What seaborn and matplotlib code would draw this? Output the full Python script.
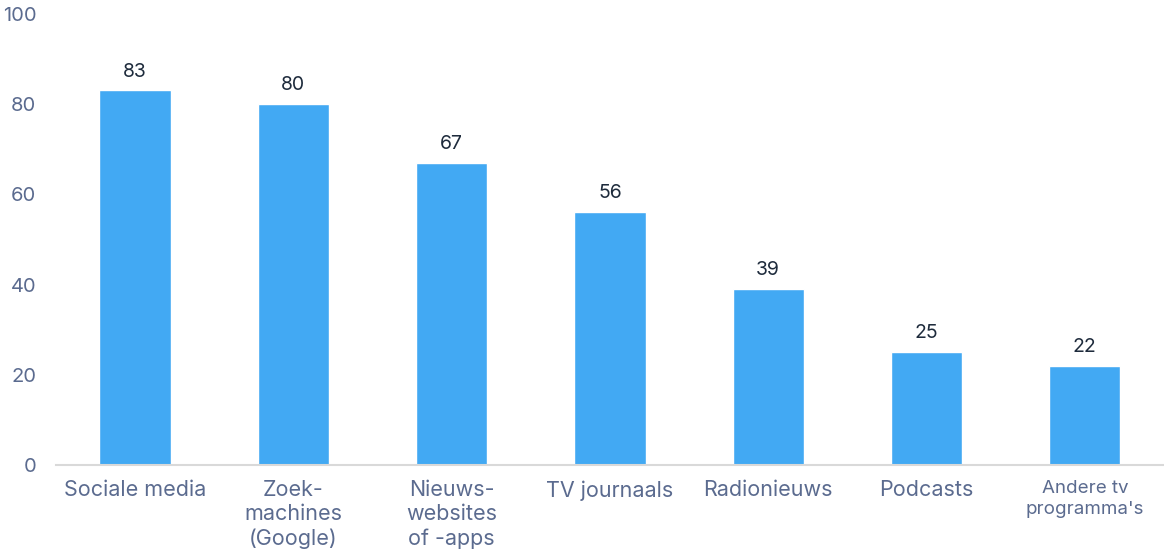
import seaborn as sns
import matplotlib.pyplot as plt
import pandas as pd

categories = ["Sociale media", "Zoek-\nmachines\n(Google)", "Nieuws-\nwebsites\nof -apps",
              "TV journaals", "Radionieuws", "Podcasts", "Andere tv\nprogramma's"]
values = [83, 80, 67, 56, 39, 25, 22]

bar_color = "#42A9F3"
tick_color = "#5B6B8F"
label_color = "#1E2B3C"


def main():
    sns.set_style("white")
    plt.rcParams["font.family"] = ["Inter", "DejaVu Sans"]

    df = pd.DataFrame({"cat": categories, "val": values})

    fig = plt.figure(figsize=(11.64, 5.51), dpi=100)
    ax = fig.add_axes([0.048, 0.156, 0.952, 0.819])

    sns.barplot(data=df, x="cat", y="val", color=bar_color, width=0.45,
                saturation=1, ax=ax)

    for p, v in zip(ax.patches, values):
        ax.text(p.get_x() + p.get_width() / 2, v + 2.2, str(v), ha="center", va="bottom",
                fontsize=14, color=label_color)

    ax.set_ylim(0, 100)
    ax.set_xlim(-0.5, len(categories) - 0.5)
    ax.set_yticks(range(0, 101, 20))
    ax.tick_params(axis="y", length=0, labelsize=14.5, labelcolor=tick_color, pad=14)
    ax.tick_params(axis="x", length=0, labelsize=15.5, labelcolor=tick_color, pad=11)
    for t in ax.get_xticklabels():
        t.set_linespacing(1.25)
        t.set_va("top")
    ax.get_xticklabels()[-1].set_fontsize(13.5)

    sns.despine(ax=ax, left=True)
    ax.spines["bottom"].set_color("#D9D9D9")
    ax.spines["bottom"].set_linewidth(1.5)
    ax.set_xlabel(None)
    ax.set_ylabel(None)

    plt.savefig("out.png", dpi=100)


main()
